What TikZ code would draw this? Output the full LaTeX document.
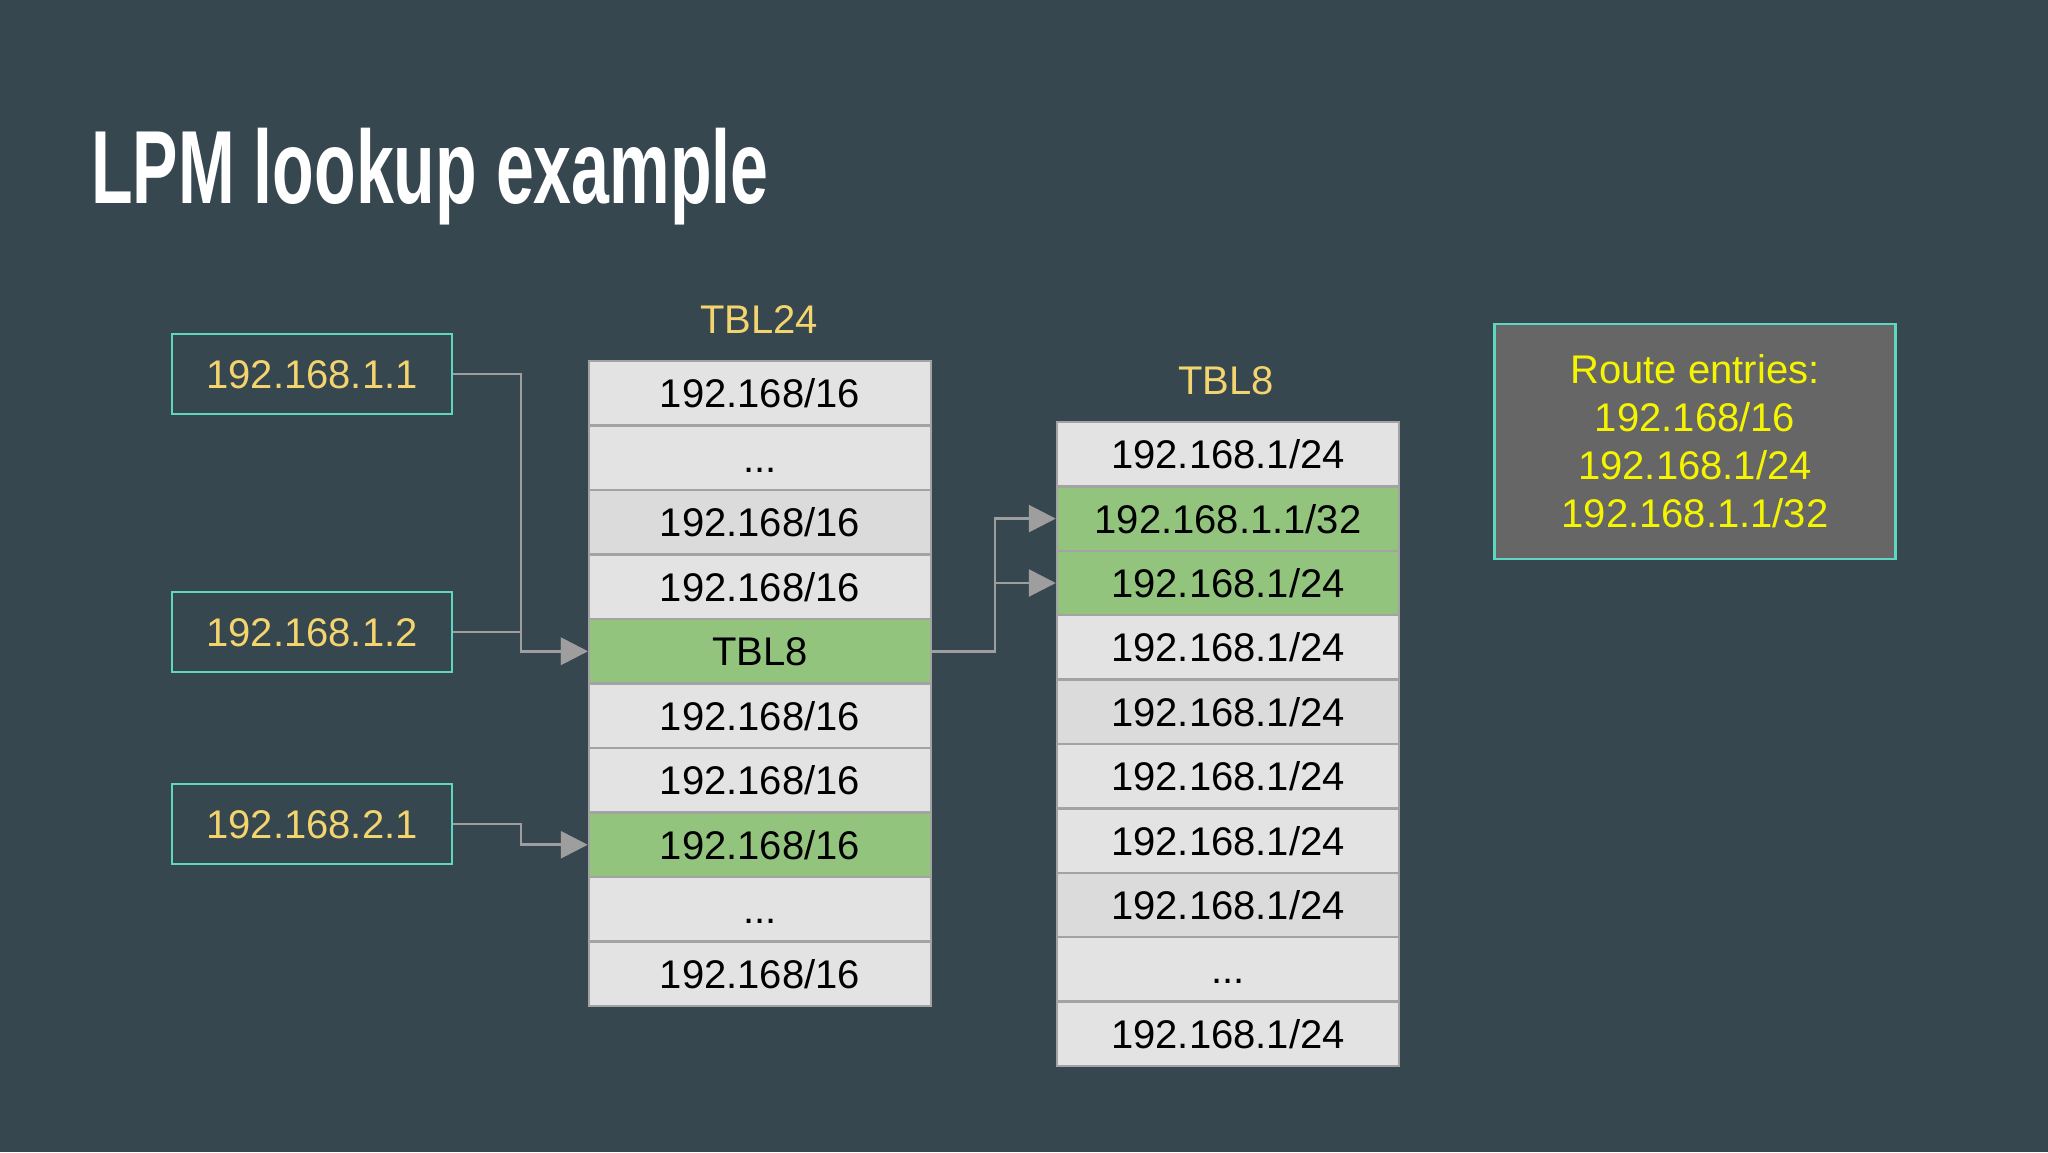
\documentclass[tikz,border=0pt]{standalone}
\usepackage{fontspec}
\setmainfont{Liberation Sans}
\newfontfamily\titlefont[FakeStretch=0.655]{Liberation Sans Bold}
\usetikzlibrary{arrows.meta}
\definecolor{bg}{HTML}{37474F}
\definecolor{cellc}{HTML}{E3E3E3}
\definecolor{celld}{HTML}{DBDBDB}
\definecolor{greenc}{HTML}{93C47D}
\definecolor{gridc}{HTML}{A3A3A3}
\definecolor{cyanc}{HTML}{5ED7C1}
\definecolor{goldc}{HTML}{F3D46E}
\definecolor{yelc}{HTML}{F5F500}
\definecolor{routebg}{HTML}{666666}
\definecolor{linec}{HTML}{9E9E9E}
\tikzset{
  cell/.style={draw=gridc, line width=2.5pt, minimum width=342pt, minimum height=64.5pt,
    inner sep=0pt, text height=29pt, text depth=0pt, text=black,
    font=\fontsize{40}{48}\selectfont},
  lite/.style={cell, fill=cellc},
  dark/.style={cell, fill=celld},
  hit/.style={cell, fill=greenc},
  inbox/.style={draw=cyanc, line width=2.5pt, minimum width=280pt, minimum height=80pt,
    inner sep=0pt, text height=29pt, text depth=0pt, text=goldc,
    font=\fontsize{40}{48}\selectfont},
  tlabel/.style={text=goldc, inner sep=0pt, text height=29pt, text depth=0pt,
    font=\fontsize{40}{48}\selectfont},
  conn/.style={draw=linec, line width=2.8pt, -{Triangle[length=27pt,width=27pt]}},
}
\begin{document}
\begin{tikzpicture}[x=1pt,y=-1pt]
\fill[bg] (0,0) rectangle (2048,1152);
\useasboundingbox (0,0) rectangle (2048,1152);

\node[anchor=base west, inner sep=0pt, text=white, font=\titlefont\fontsize{104}{110}\selectfont] (title) at (91,203) {LPM lookup example};

% input boxes
\node[inbox] (b1) at (312,374) {192.168.1.1};
\node[inbox] (b2) at (312,632) {192.168.1.2};
\node[inbox] (b3) at (312,824) {192.168.2.1};

% TBL24
\node[tlabel] (l24) at (759,318.5) {TBL24};
\node[lite] (t24a) at (760,393.25) {192.168/16};
\node[lite] (t24b) at (760,457.75) {...};
\node[dark] (t24c) at (760,522.25) {192.168/16};
\node[lite] (t24d) at (760,586.75) {192.168/16};
\node[hit]  (t24e) at (760,651.25) {TBL8};
\node[lite] (t24f) at (760,715.75) {192.168/16};
\node[lite] (t24g) at (760,780.25) {192.168/16};
\node[hit]  (t24h) at (760,844.75) {192.168/16};
\node[lite] (t24i) at (760,909.25) {...};
\node[lite] (t24j) at (760,973.75) {192.168/16};

% TBL8
\node[tlabel] (l8) at (1226,379.5) {TBL8};
\node[lite] (t8a) at (1228,454.2) {192.168.1/24};
\node[hit]  (t8b) at (1228,518.6) {192.168.1.1/32};
\node[hit]  (t8c) at (1228,583.0) {192.168.1/24};
\node[lite] (t8d) at (1228,647.4) {192.168.1/24};
\node[dark] (t8e) at (1228,711.8) {192.168.1/24};
\node[lite] (t8f) at (1228,776.2) {192.168.1/24};
\node[lite] (t8g) at (1228,840.6) {192.168.1/24};
\node[dark] (t8h) at (1228,905.0) {192.168.1/24};
\node[lite] (t8i) at (1228,969.4) {...};
\node[lite] (t8j) at (1228,1033.8) {192.168.1/24};

% route entries
\node[draw=cyanc, fill=routebg, line width=2.5pt, minimum width=401pt, minimum height=235pt,
  inner sep=0pt, align=center, text=yelc, font=\fontsize{40}{48}\selectfont] (route) at (1695,441.5)
  {Route entries:\\192.168/16\\192.168.1/24\\192.168.1.1/32};

% connectors
\draw[conn] (b1.east) -- (521,374) |- (t24e.west);
\draw[conn] (b2.east) -- (521,632) |- (t24e.west);
\draw[conn] (b3.east) -- (521,824) |- (t24h.west);
\draw[conn] (t24e.east) -- (995,651.25) |- (t8b.west);
\draw[conn] (t24e.east) -- (995,651.25) |- (t8c.west);
\end{tikzpicture}
\end{document}
